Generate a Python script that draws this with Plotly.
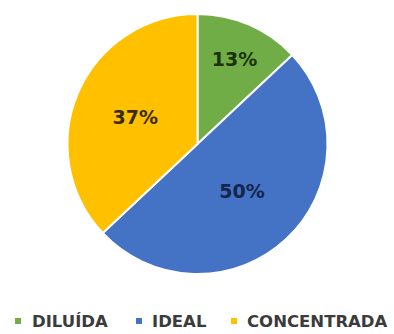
import plotly.graph_objects as go

# Category shares
categories = ["DILUÍDA", "IDEAL", "CONCENTRADA"]
shares = [13, 50, 37]
slice_colors = ["#70AD47", "#4472C4", "#FFC000"]
label_colors = ["#1b330d", "#15254d", "#3a2b00"]

W, H = 394, 334


def px_x(x):
    return x / W


def px_y(y):
    return (H - y) / H


# Pie occupies a 260 px square centred at (197.5, 144)
cx, cy, r = 197.5, 144, 130

fig = go.Figure(
    go.Pie(
        labels=categories,
        values=shares,
        sort=False,
        direction="clockwise",
        rotation=0,
        marker=dict(colors=slice_colors, line=dict(color="white", width=2)),
        textinfo="percent",
        textposition="inside",
        insidetextorientation="horizontal",
        insidetextfont=dict(family="DejaVu Sans", size=19, color=label_colors, weight="bold"),
        hoverinfo="label+percent",
        domain=dict(x=[px_x(cx - r), px_x(cx + r)], y=[px_y(cy + r), px_y(cy - r)]),
        showlegend=False,
    )
)

# Legend row along the bottom edge
legend_marker_x = [18, 139, 234]
legend_text_x = [30, 150, 245]
legend_y = 321
sq = 3
for name, color, mx, tx in zip(categories, slice_colors, legend_marker_x, legend_text_x):
    fig.add_shape(
        type="rect",
        xref="paper", yref="paper",
        x0=px_x(mx - sq), x1=px_x(mx + sq),
        y0=px_y(legend_y + sq), y1=px_y(legend_y - sq),
        fillcolor=color, line=dict(width=0),
    )
    fig.add_annotation(
        text=name,
        xref="paper", yref="paper",
        x=px_x(tx), y=px_y(legend_y),
        xanchor="left", yanchor="middle",
        showarrow=False,
        font=dict(family="DejaVu Sans", size=16.5, color="#3b3b3b", weight="bold"),
    )

fig.update_layout(
    width=W,
    height=H,
    margin=dict(l=0, r=0, t=0, b=0),
    paper_bgcolor="white",
    plot_bgcolor="white",
)

fig.write_html("out.html")
